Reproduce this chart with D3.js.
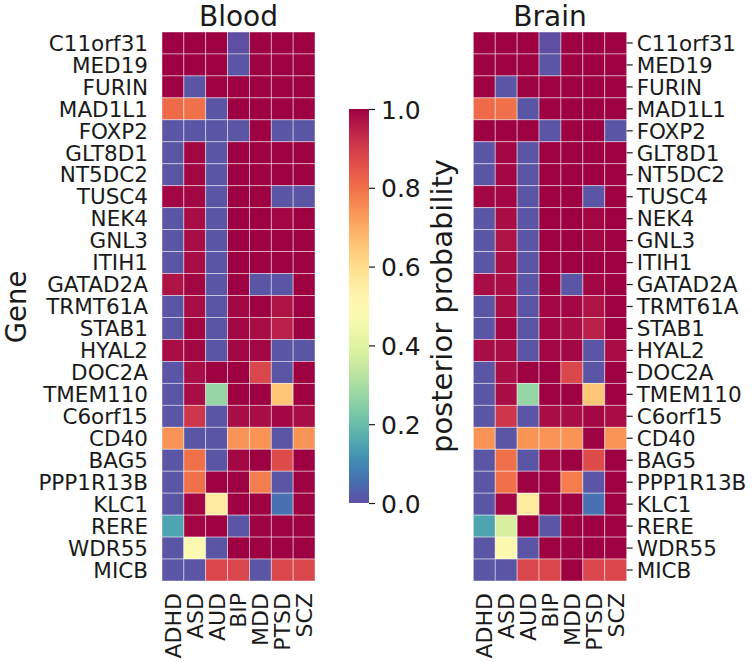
<!DOCTYPE html>
<html>
<head>
<meta charset="utf-8">
<script src="https://cdn.jsdelivr.net/npm/d3@7"></script>
<style>
  html, body { margin: 0; padding: 0; background: #fff; }
  svg { display: block; font-family: "DejaVu Sans", sans-serif; }
</style>
</head>
<body>
<svg id="chart" width="754" height="662"></svg>
<script>
// ---- data ----
const genes = ["C11orf31","MED19","FURIN","MAD1L1","FOXP2","GLT8D1","NT5DC2","TUSC4","NEK4","GNL3","ITIH1","GATAD2A","TRMT61A","STAB1","HYAL2","DOC2A","TMEM110","C6orf15","CD40","BAG5","PPP1R13B","KLC1","RERE","WDR55","MICB"];
const disorders = ["ADHD","ASD","AUD","BIP","MDD","PTSD","SCZ"];
const tissues = ["Blood","Brain"];
const colorbarTicks = [0.0, 0.2, 0.4, 0.6, 0.8, 1.0];

const bloodValues = [
  [1.00,1.00,1.00,0.00,1.00,1.00,1.00],
  [1.00,1.00,1.00,0.01,1.00,1.00,1.00],
  [1.00,0.01,1.00,1.00,1.00,1.00,1.00],
  [0.81,0.80,0.01,1.00,1.00,1.00,1.00],
  [0.01,0.01,0.01,0.01,1.00,0.01,0.01],
  [0.01,0.99,0.01,1.00,1.00,1.00,1.00],
  [0.01,0.99,0.01,1.00,1.00,1.00,1.00],
  [0.99,0.99,0.01,1.00,1.00,0.01,0.01],
  [0.01,0.98,0.01,1.00,1.00,0.99,1.00],
  [0.01,0.98,0.01,1.00,1.00,1.00,1.00],
  [0.01,0.98,0.01,1.00,1.00,1.00,1.00],
  [0.97,0.99,0.01,1.00,0.01,0.01,1.00],
  [0.01,0.98,0.01,0.99,1.00,0.97,1.00],
  [0.01,0.99,0.01,0.99,0.98,0.95,1.00],
  [0.98,0.99,0.01,0.99,0.99,0.01,0.01],
  [0.01,0.98,1.00,1.00,0.88,0.01,1.00],
  [0.01,0.98,0.27,1.00,1.00,0.65,1.00],
  [0.01,0.91,0.01,0.98,0.98,0.99,0.98],
  [0.74,0.01,0.01,0.74,0.74,0.01,0.74],
  [0.01,0.80,0.01,0.99,1.00,0.87,1.00],
  [0.01,0.80,1.00,1.00,0.78,0.01,1.00],
  [0.01,0.99,0.56,1.00,1.00,0.06,1.00],
  [0.15,0.99,1.00,0.01,1.00,1.00,1.00],
  [0.01,0.50,0.01,1.00,1.00,1.00,1.00],
  [0.01,0.01,0.88,0.88,0.01,0.88,0.88]
];

const brainValues = [
  [1.00,1.00,1.00,0.00,1.00,1.00,1.00],
  [1.00,1.00,1.00,0.01,1.00,1.00,1.00],
  [1.00,0.01,1.00,1.00,1.00,1.00,1.00],
  [0.81,0.80,0.01,1.00,1.00,1.00,1.00],
  [1.00,1.00,1.00,0.01,1.00,1.00,0.01],
  [0.01,0.99,0.01,1.00,1.00,1.00,1.00],
  [0.01,0.99,0.01,1.00,1.00,1.00,1.00],
  [0.99,0.99,0.01,1.00,1.00,0.01,1.00],
  [0.01,0.98,0.01,1.00,1.00,0.99,1.00],
  [0.01,0.97,0.01,1.00,1.00,0.99,1.00],
  [0.01,0.98,0.01,1.00,1.00,1.00,1.00],
  [0.98,0.98,0.01,1.00,0.01,0.99,1.00],
  [0.01,0.98,0.01,0.99,0.99,0.97,1.00],
  [0.01,0.99,0.01,0.99,0.98,0.95,1.00],
  [0.98,0.98,0.01,0.99,0.99,0.01,0.98],
  [0.01,0.98,1.00,1.00,0.88,0.01,1.00],
  [0.01,0.98,0.27,1.00,1.00,0.65,1.00],
  [0.01,0.91,0.01,0.98,0.98,0.99,0.98],
  [0.74,0.01,0.74,0.74,0.74,1.00,0.74],
  [0.01,0.80,0.01,0.99,1.00,0.87,1.00],
  [0.01,0.80,1.00,1.00,0.78,0.01,1.00],
  [0.01,0.99,0.56,1.00,1.00,0.06,1.00],
  [0.15,0.38,1.00,0.01,1.00,1.00,1.00],
  [0.01,0.50,0.01,1.00,1.00,1.00,1.00],
  [0.01,0.01,0.88,0.88,1.00,0.88,0.88]
];

// ---- layout ----
const svg = d3.select("#chart");
const plotTop = 32, plotBottom = 581;
const panels = [
  { name: tissues[0], values: bloodValues, x0: 162, x1: 315, labelSide: "left" },
  { name: tissues[1], values: brainValues, x0: 473.3, x1: 626.7, labelSide: "right" }
];
const color = v => d3.interpolateSpectral(1 - v);
const y = d3.scaleBand().domain(genes).range([plotTop, plotBottom]).padding(0);
const textColor = "#1a1a1a";

panels.forEach(p => {
  const x = d3.scaleBand().domain(disorders).range([p.x0, p.x1]).padding(0);
  const g = svg.append("g");
  const cells = [];
  genes.forEach((gene, i) => disorders.forEach((d, j) => cells.push({ gene, d, v: p.values[i][j] })));
  g.selectAll("rect").data(cells).join("rect")
    .attr("x", c => x(c.d)).attr("y", c => y(c.gene))
    .attr("width", x.bandwidth()).attr("height", y.bandwidth())
    .attr("fill", c => color(c.v))
    .attr("stroke", "rgba(255,255,255,0.55)").attr("stroke-width", 0.8);

  // title
  svg.append("text").attr("x", (p.x0 + p.x1) / 2).attr("y", 26)
    .attr("text-anchor", "middle").attr("font-size", 28).attr("fill", textColor).text(p.name);

  // y axis labels
  if (p.labelSide === "left") {
    svg.append("g").selectAll("text").data(genes).join("text")
      .attr("x", 148).attr("y", gname => y(gname) + y.bandwidth() / 2)
      .attr("dy", "0.36em").attr("text-anchor", "end")
      .attr("font-size", 21.5).attr("fill", textColor).text(gname => gname);
  } else {
    const axis = d3.axisRight(y).tickSize(6).tickPadding(4);
    const ag = svg.append("g").attr("transform", `translate(${p.x1},0)`).call(axis);
    ag.select(".domain").remove();
    ag.selectAll(".tick line").attr("stroke", textColor).attr("stroke-width", 1.2);
    ag.selectAll(".tick text").attr("font-size", 21.5).attr("fill", textColor)
      .attr("font-family", "DejaVu Sans").attr("dy", "0.36em");
  }

  // x labels (rotated)
  svg.append("g").selectAll("text").data(disorders).join("text")
    .attr("transform", d => `translate(${x(d) + x.bandwidth() / 2},593) rotate(-90)`)
    .attr("dy", "0.36em").attr("text-anchor", "end")
    .attr("font-size", 22).attr("fill", textColor).text(d => d);
});

// "Gene" y label
svg.append("text").attr("transform", "translate(26,307) rotate(-90)")
  .attr("text-anchor", "middle").attr("font-size", 27.5).attr("fill", textColor).text("Gene");

// ---- colorbar ----
const cbX = 349, cbW = 20, cbTop = 109, cbBottom = 503;
const cbScale = d3.scaleLinear().domain([0, 1]).range([cbBottom, cbTop]);
const defs = svg.append("defs");
const grad = defs.append("linearGradient").attr("id", "cbgrad")
  .attr("x1", 0).attr("y1", 1).attr("x2", 0).attr("y2", 0);
d3.range(0, 1.0001, 0.02).forEach(t => {
  grad.append("stop").attr("offset", t).attr("stop-color", color(t));
});
svg.append("rect").attr("x", cbX).attr("y", cbTop).attr("width", cbW)
  .attr("height", cbBottom - cbTop).attr("fill", "url(#cbgrad)");
const cbAxis = d3.axisRight(cbScale).tickValues(colorbarTicks).tickFormat(d3.format(".1f"))
  .tickSize(6).tickPadding(6);
const cbg = svg.append("g").attr("transform", `translate(${cbX + cbW},0)`).call(cbAxis);
cbg.select(".domain").remove();
cbg.selectAll(".tick line").attr("stroke", textColor).attr("stroke-width", 1.2);
cbg.selectAll(".tick text").attr("font-size", 25).attr("fill", textColor)
  .attr("font-family", "DejaVu Sans").attr("dy", "0.36em");

svg.append("text").attr("transform", `translate(452,${(cbTop + cbBottom) / 2}) rotate(-90)`)
  .attr("text-anchor", "middle").attr("font-size", 29).attr("fill", textColor)
  .text("posterior probability");
</script>
</body>
</html>
